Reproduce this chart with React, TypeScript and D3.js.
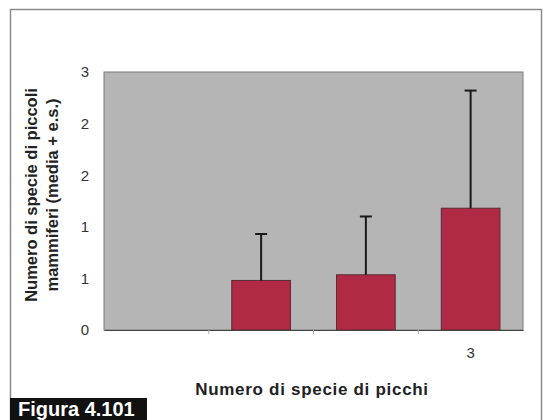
import React, { useEffect, useRef } from 'react';
import * as d3 from 'd3';

const categories = ['0', '1', '2', '3'];
const xTickLabels = ['', '', '', '3'];
const means = [0, 0.48, 0.535, 1.18];
const errorTops = [0, 0.93, 1.1, 2.32];
const yTicks = [0, 0.5, 1, 1.5, 2, 2.5];
const yTickLabels = ['0', '1', '1', '2', '2', '3'];

const App: React.FC = () => {
    const svgRef = useRef<SVGSVGElement>(null);

    useEffect(() => {
        const root = d3.select(svgRef.current);
        root.selectAll('*').remove();

        const width = 545;
        const height = 420;
        const plot = { left: 104, right: 523, top: 72, bottom: 330 };
        const font = "'Liberation Sans', Arial, sans-serif";

        root.attr('width', width).attr('height', height).style('background', '#fff');

        // Outer frame
        root.append('path')
            .attr('d', `M10.5,${height} V9.5 H541.5 V${height}`)
            .attr('fill', 'none')
            .attr('stroke', '#8a8a8a')
            .attr('stroke-width', 1.5);

        const x = d3.scaleBand()
            .domain(categories)
            .range([plot.left, plot.right])
            .paddingInner(0.44)
            .paddingOuter(0.22);

        const y = d3.scaleLinear()
            .domain([0, 2.5])
            .range([plot.bottom, plot.top]);

        // Plot background
        root.append('rect')
            .attr('x', plot.left)
            .attr('y', plot.top)
            .attr('width', plot.right - plot.left)
            .attr('height', plot.bottom - plot.top)
            .attr('fill', '#b5b5b5')
            .attr('stroke', '#7a7a7a')
            .attr('stroke-width', 1);

        // Bars
        root.selectAll('rect.bar')
            .data(categories.filter((_, i) => means[i] > 0))
            .enter()
            .append('rect')
            .attr('class', 'bar')
            .attr('x', d => x(d) || 0)
            .attr('y', d => y(means[categories.indexOf(d)]))
            .attr('width', x.bandwidth())
            .attr('height', d => plot.bottom - y(means[categories.indexOf(d)]))
            .attr('fill', '#b12a45')
            .attr('stroke', '#5a2a30')
            .attr('stroke-width', 1);

        // Error bars (upper only)
        const err = root.append('g').attr('stroke', '#1a1a1a').attr('stroke-width', 2);
        categories.forEach((c, i) => {
            if (errorTops[i] <= 0) return;
            const cx = (x(c) || 0) + x.bandwidth() / 2;
            err.append('line')
                .attr('x1', cx).attr('x2', cx)
                .attr('y1', y(means[i])).attr('y2', y(errorTops[i]));
            err.append('line')
                .attr('x1', cx - 6).attr('x2', cx + 6)
                .attr('y1', y(errorTops[i])).attr('y2', y(errorTops[i]));
        });

        // X axis
        const xAxis = root.append('g')
            .attr('transform', `translate(0,${plot.bottom})`)
            .call(d3.axisBottom(x).tickSize(0).tickFormat((_, i) => xTickLabels[i]).tickPadding(17));
        xAxis.select('.domain').attr('stroke', '#444');
        xAxis.selectAll('text')
            .style('font-family', font)
            .style('font-size', '15px')
            .style('fill', '#333');
        const step = x.step();
        root.append('g')
            .selectAll('line')
            .data(categories.slice(1))
            .enter()
            .append('line')
            .attr('x1', d => (x(d) || 0) - (step - x.bandwidth()) / 2)
            .attr('x2', d => (x(d) || 0) - (step - x.bandwidth()) / 2)
            .attr('y1', plot.bottom)
            .attr('y2', plot.bottom + 4)
            .attr('stroke', '#aaa');

        // Y axis labels
        root.append('g')
            .selectAll('text')
            .data(yTicks)
            .enter()
            .append('text')
            .attr('x', 89)
            .attr('y', d => y(d))
            .attr('dy', '0.36em')
            .attr('text-anchor', 'end')
            .style('font-family', font)
            .style('font-size', '15px')
            .style('fill', '#333')
            .text((_, i) => yTickLabels[i]);

        // Axis titles
        const yTitle = root.append('text')
            .attr('transform', `translate(37,195) rotate(-90)`)
            .attr('text-anchor', 'middle')
            .style('font-family', font)
            .style('font-size', '16.5px')
            .style('font-weight', 'bold')
            .style('fill', '#222');
        yTitle.append('tspan').attr('x', 0).attr('dy', 0).text('Numero di specie di piccoli');
        yTitle.append('tspan').attr('x', 0).attr('dy', 21).text('mammiferi (media + e.s.)');

        root.append('text')
            .attr('x', 312)
            .attr('y', 395)
            .attr('text-anchor', 'middle')
            .style('font-family', font)
            .style('font-size', '17px')
            .style('font-weight', 'bold')
            .style('letter-spacing', '0.7px')
            .style('fill', '#222')
            .text('Numero di specie di picchi');

        // Figure label
        root.append('rect')
            .attr('x', 10)
            .attr('y', 398)
            .attr('width', 137)
            .attr('height', 22)
            .attr('fill', '#111');
        root.append('text')
            .attr('x', 18)
            .attr('y', 416)
            .style('font-family', font)
            .style('font-size', '20px')
            .style('font-weight', 'bold')
            .style('fill', '#fff')
            .text('Figura 4.101');
    }, []);

    return <svg ref={svgRef} style={{ position: 'absolute', left: 0, top: 0 }}></svg>;
};

export default App;
